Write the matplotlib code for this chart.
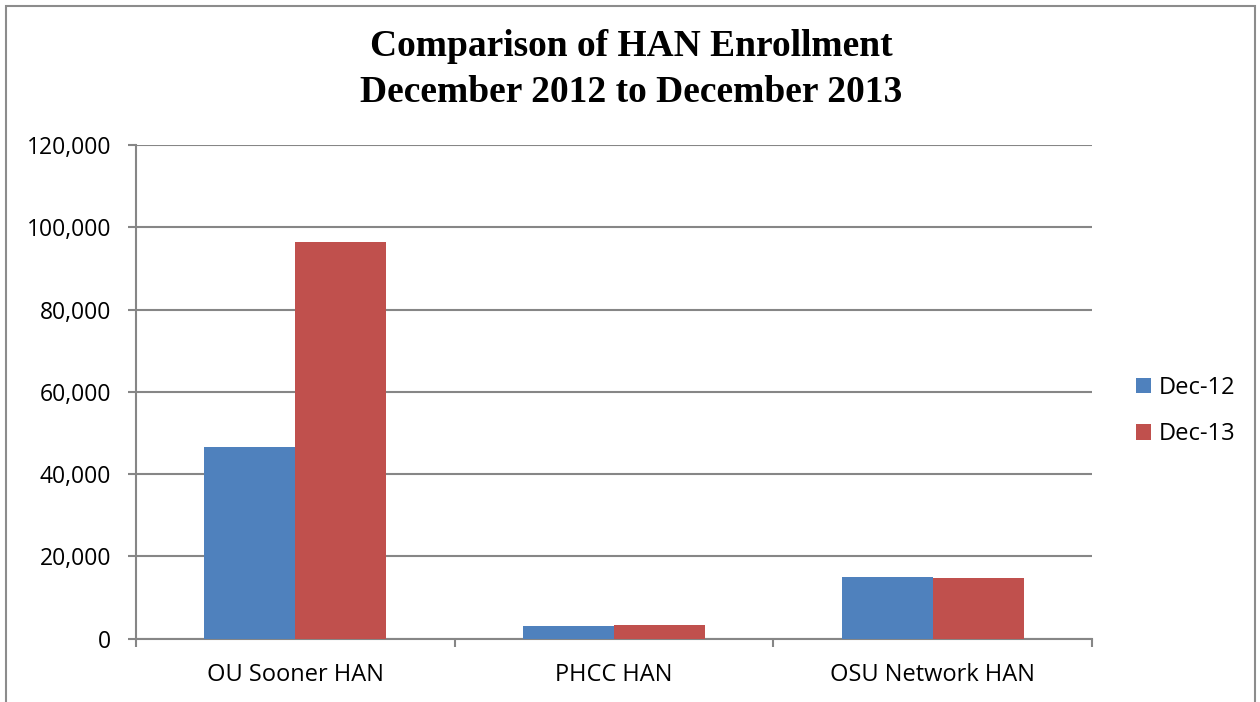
import matplotlib
matplotlib.use("Agg")
import matplotlib.pyplot as plt
import numpy as np
from matplotlib.patches import Rectangle
from matplotlib.ticker import FuncFormatter, MultipleLocator

categories = ["OU Sooner HAN", "PHCC HAN", "OSU Network HAN"]
dec12 = [46500, 3050, 14950]
dec13 = [96450, 3350, 14700]
series_names = ["Dec-12", "Dec-13"]
colors = ["#4F81BD", "#C0504D"]

W, H = 1260, 702
fig = plt.figure(figsize=(W / 100, H / 100), dpi=100)
fig.patch.set_facecolor("white")

# outer frame
fig.patches.append(Rectangle((6 / W, -0.05), (1255 - 6) / W, 1.05 - 6 / H,
                             transform=fig.transFigure, fill=False,
                             edgecolor="#8c8c8c", linewidth=1.5))

ax = fig.add_axes([136 / W, 1 - 638.5 / H, (1092 - 136) / W, (638.5 - 145) / H])

x = np.arange(len(categories))
bw = 91 / 318.7
ax.bar(x - bw / 2, dec12, bw, color=colors[0], label=series_names[0], zorder=3)
ax.bar(x + bw / 2, dec13, bw, color=colors[1], label=series_names[1], zorder=3)

ax.set_xlim(-0.5, len(categories) - 0.5)
ax.set_ylim(0, 120000)
ax.yaxis.set_major_locator(MultipleLocator(20000))
ax.yaxis.set_major_formatter(FuncFormatter(lambda v, p: f"{int(v):,}"))
ax.grid(axis="y", color="#868686", linewidth=1.5, zorder=0)

for s in ["top", "right"]:
    ax.spines[s].set_visible(False)
for s in ["left", "bottom"]:
    ax.spines[s].set_color("#868686")
    ax.spines[s].set_linewidth(1.5)

ax.set_xticks(x)
ax.set_xticklabels(categories, fontsize=17, fontfamily="Open Sans")
ax.tick_params(axis="x", length=0, pad=17.5)
ax.set_xticks(np.arange(-0.5, len(categories), 1), minor=True)
ax.tick_params(axis="x", which="minor", length=6, color="#868686", width=1.5, direction="out")
ax.tick_params(axis="y", length=6, color="#868686", width=1.5, direction="out", pad=12,
               labelsize=16.5)
for lbl in ax.get_yticklabels():
    lbl.set_fontfamily("Open Sans")

fig.text(631.5 / W, 1 - 47 / H, "Comparison of HAN Enrollment", ha="center", va="center",
         fontsize=27, fontweight="bold", fontfamily="Liberation Serif")
fig.text(631.5 / W, 1 - 92 / H, "December 2012 to December 2013", ha="center", va="center",
         fontsize=27, fontweight="bold", fontfamily="Liberation Serif")

leg = ax.legend(loc="center left", bbox_to_anchor=(1124 / W, 1 - 411 / H),
                bbox_transform=fig.transFigure, frameon=False, borderpad=0,
                prop={"family": "Open Sans", "size": 17},
                handlelength=0.64, handleheight=0.64, handletextpad=0.35, labelspacing=0.95)

fig.savefig("out.png", dpi=100, facecolor="white")
